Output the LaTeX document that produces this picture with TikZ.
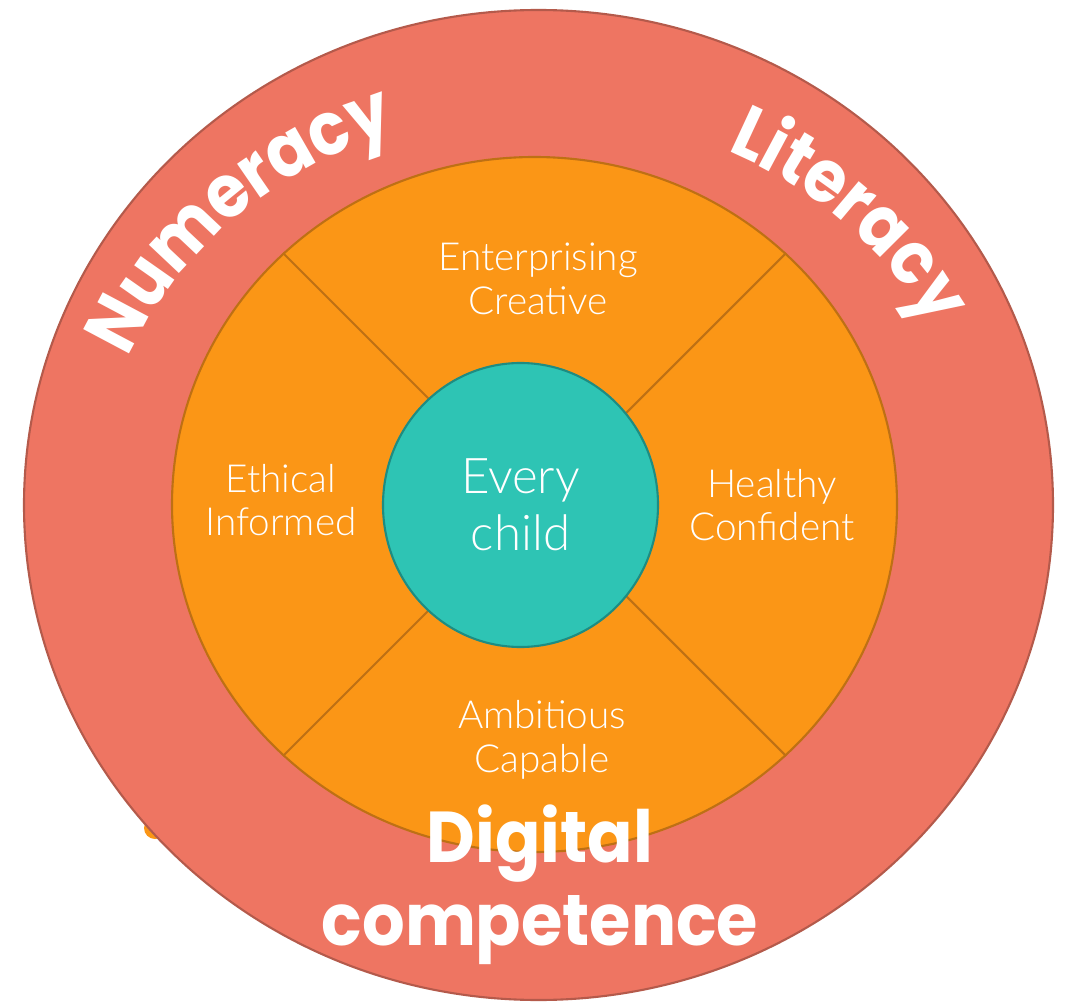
\documentclass[tikz,border=0pt]{standalone}
\usepackage{fontspec}
\usepackage{xcolor}
\usepackage{tikz}
\usetikzlibrary{shapes.geometric,decorations.text}

\newfontfamily\lightfont{Lato Light}
\newfontfamily\heavyfont{Poppins}[UprightFont=*-Bold, FakeStretch=0.93]
\newfontfamily\ringface{Poppins}[UprightFont=*-Bold, FakeStretch=0.9]
\newcommand{\ringfont}{\ringface\fontsize{21}{24}\selectfont}

\definecolor{outerfill}{HTML}{EE7562}
\definecolor{outerline}{HTML}{B45A4B}
\definecolor{orangefill}{HTML}{FB9616}
\definecolor{orangeline}{HTML}{BE7014}
\definecolor{tealfill}{HTML}{2EC4B4}
\definecolor{tealline}{HTML}{1E8C82}

\begin{document}
\begin{tikzpicture}[
    disc/.style={ellipse, inner sep=0pt, line width=0.6pt},
    divider/.style={draw=orangeline, line width=0.6pt},
    quarter/.style={align=center, text=white, font=\lightfont\fontsize{11}{12.4}\selectfont},
    bigword/.style={align=center, text=white, font=\heavyfont\fontsize{20.5}{23.5}\selectfont},
    ringtext/.style={decorate, decoration={text along path, text align=center, text color=white}}
]
\useasboundingbox (0,0) rectangle (10.68,10.01);

  \node[disc, fill=orangefill, minimum size=0.22cm]  (dot) at (1.55,1.73) {};
  \node[disc, draw=outerline, fill=outerfill, minimum width=10.29cm, minimum height=9.90cm]  (outer) at (5.385,4.96) {};
  \node[disc, draw=orangeline, fill=orangefill, minimum width=7.25cm, minimum height=6.95cm]  (values) at (5.345,4.965) {};

  \path[divider]
        (values.45)  edge (values.center)
        (values.135) edge (values.center)
        (values.225) edge (values.center)
        (values.315) edge (values.center);

  \node[disc, draw=tealline, fill=tealfill, minimum width=2.75cm, minimum height=2.84cm,
        text=white, align=center, font=\lightfont\fontsize{14}{16.2}\selectfont]  (child) at (5.205,4.96) {Every\\child};

  \node[quarter] (top)    at (5.38,7.22) {Enterprising\\Creative};
  \node[quarter] (left)   at (2.81,5.01) {Ethical\\Informed};
  \node[quarter] (right)  at (7.72,4.96) {Healthy\\Confident};
  \node[quarter] (bottom) at (5.42,2.61) {Ambitious\\Capable};

  \node[bigword] (digital) at (5.40,1.16) {Digital\\competence};

  % words along the outer ring
  \path[ringtext, decoration={text={|\ringfont|Numeracy}}]
        ([shift={(169:4.42 and 3.95)}]outer.center) arc[start angle=169, end angle=99, x radius=4.42, y radius=3.95];
  \path[ringtext, decoration={text={|\ringfont|Literacy}}]
        ([shift={(80:4.40 and 3.92)}]outer.center) arc[start angle=80, end angle=10, x radius=4.40, y radius=3.92];
\end{tikzpicture}
\end{document}
